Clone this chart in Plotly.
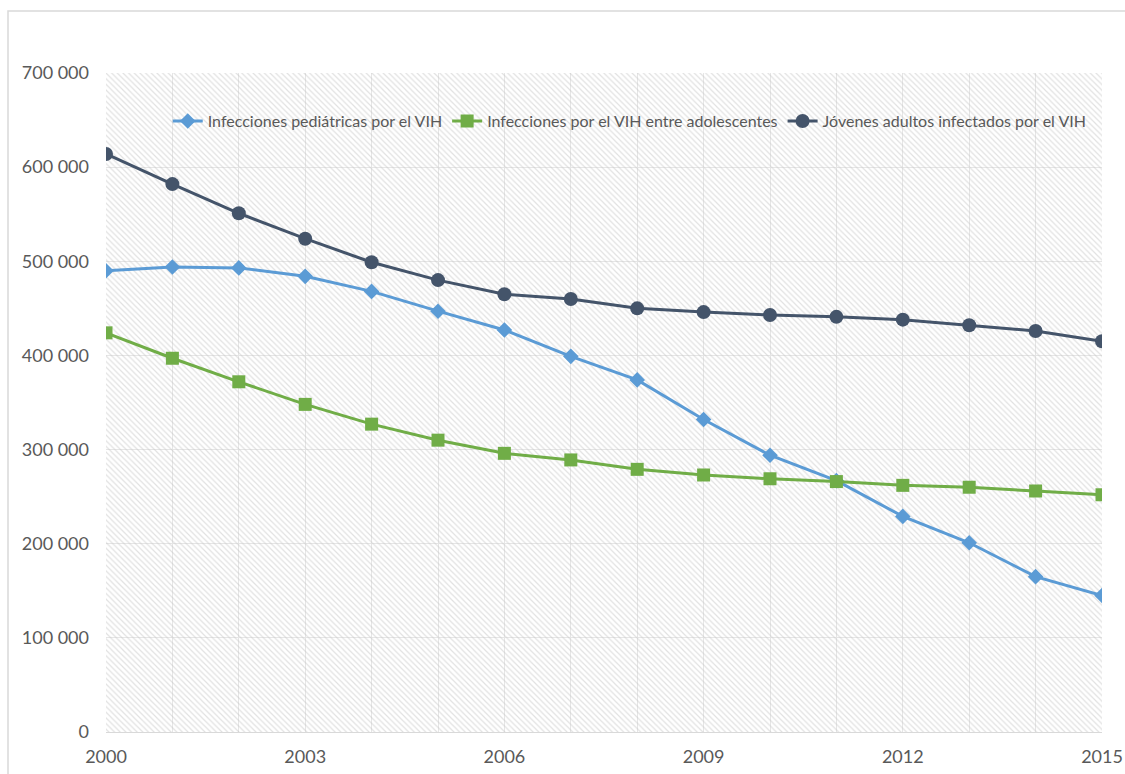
import plotly.graph_objects as go

years = list(range(2000, 2016))
pediatric = [490000, 494000, 493000, 484000, 468000, 447000, 427000, 399000,
             374000, 332000, 294000, 267000, 229000, 201000, 165000, 145000]
adolescents = [424000, 397000, 372000, 348000, 327000, 310000, 296000, 289000,
               279000, 273000, 269000, 266000, 262000, 260000, 256000, 252000]
young_adults = [614000, 582000, 551000, 524000, 499000, 480000, 465000, 460000,
                450000, 446000, 443000, 441000, 438000, 432000, 426000, 415000]
names = ["Infecciones pediátricas por el VIH",
         "Infecciones por el VIH entre adolescentes",
         "Jóvenes adultos infectados por el VIH"]
colors = ["#5B9BD5", "#70AD47", "#44546A"]
xticks = [2000, 2003, 2006, 2009, 2012, 2015]

fig = go.Figure()
# hatched plot-area background
fig.add_trace(go.Scatter(
    x=[years[0], years[-1], years[-1], years[0], years[0]],
    y=[0, 0, 700000, 700000, 0],
    fill="toself", mode="none", showlegend=False, hoverinfo="skip",
    fillcolor="rgba(0,0,0,0)",
    fillpattern=dict(shape="\\", fgcolor="#c4c4c4", bgcolor="rgba(255,255,255,0)",
                     size=4, solidity=0.3)))

fig.add_trace(go.Scatter(x=years, y=pediatric, name=names[0], mode="lines+markers",
                         line=dict(color=colors[0], width=3),
                         marker=dict(symbol="diamond", size=12, color=colors[0])))
fig.add_trace(go.Scatter(x=years, y=adolescents, name=names[1], mode="lines+markers",
                         line=dict(color=colors[1], width=3),
                         marker=dict(symbol="square", size=13, color=colors[1])))
fig.add_trace(go.Scatter(x=years, y=young_adults, name=names[2], mode="lines+markers",
                         line=dict(color=colors[2], width=3),
                         marker=dict(symbol="circle", size=14, color=colors[2])))

fig.update_layout(
    width=1125, height=774,
    margin=dict(l=106, r=23, t=73, b=42),
    paper_bgcolor="white", plot_bgcolor="white",
    separators=", ",
    font=dict(family="Lato", color="#595959"),
    legend=dict(orientation="h", x=0.062, y=0.927, xanchor="left", yanchor="middle",
                bgcolor="rgba(0,0,0,0)", font=dict(size=16, color="#595959"),
                itemwidth=30),
    shapes=[dict(type="rect", xref="paper", yref="paper",
                 x0=-0.0984, x1=1.2, y0=-0.2, y1=1.094,
                 line=dict(color="#d9d9d9", width=1.5), fillcolor="rgba(0,0,0,0)",
                 layer="below")],
    xaxis=dict(range=[2000, 2015], tickvals=xticks, ticktext=[str(t) for t in xticks],
               showgrid=True, gridcolor="#e6e6e6", gridwidth=1,
               minor=dict(dtick=1, showgrid=True, gridcolor="#e6e6e6", gridwidth=1),
               showline=True, linecolor="#d9d9d9", linewidth=1,
               ticks="", tickfont=dict(size=18, color="#595959"),
               zeroline=False, ticklabelstandoff=8, automargin=False),
    yaxis=dict(range=[0, 700000], dtick=100000, tickformat=",d",
               showgrid=True, gridcolor="#e6e6e6", gridwidth=1,
               ticks="", tickfont=dict(size=18, color="#595959"),
               zeroline=False, ticklabelstandoff=16, automargin=False),
)

fig.write_html("out.html")
